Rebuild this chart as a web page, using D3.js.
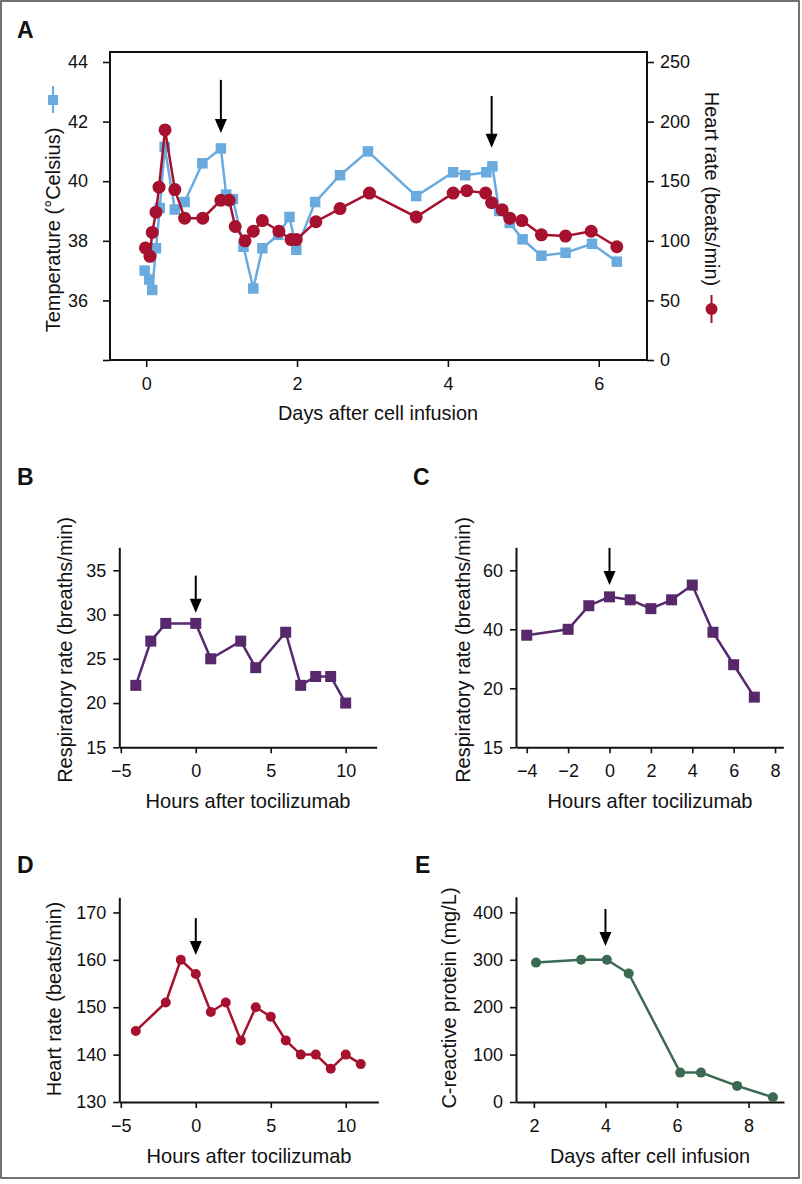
<!DOCTYPE html>
<html><head><meta charset="utf-8">
<script src="https://cdn.jsdelivr.net/npm/d3@7"></script>
<style>
body{margin:0;background:#fff;}
text{font-family:"Liberation Sans",Arial,Helvetica,sans-serif;fill:#111;}
</style></head>
<body><svg id="fig" width="802" height="1184"></svg>
<script>
// ---------- DATA ----------
// Panel A: temperature (°C) and heart rate vs days after cell infusion
const tempDays = [-0.02,0.04,0.08,0.13,0.18,0.245,0.38,0.51,0.745,0.99,1.06,1.15,1.29,1.42,1.54,1.75,1.9,1.99,2.24,2.57,2.94,3.58,4.07,4.23,4.51,4.59,4.68,4.82,4.99,5.24,5.56,5.91,6.24];
const tempVals = [37.0,36.7,36.35,37.75,39.1,41.15,39.05,39.3,40.6,41.1,39.55,39.4,37.8,36.4,37.75,38.2,38.8,37.7,39.3,40.2,41.0,39.5,40.3,40.2,40.3,40.5,39.0,38.6,38.05,37.5,37.6,37.9,37.3];
const hrDays = [-0.01,0.05,0.08,0.13,0.17,0.25,0.38,0.51,0.75,0.99,1.1,1.18,1.31,1.42,1.54,1.76,1.92,1.99,2.25,2.57,2.96,3.58,4.07,4.25,4.5,4.58,4.72,4.82,4.98,5.24,5.56,5.9,6.24];
const hrVals = [94,87,107,124,145,193,143,119,119,134,134,112,100,108,117,108,101,101,116,127,140,120,140,142,140,132,126,119,117,105,104,108,95];
const tempTicks = [34,36,38,40,42,44];
const hrTicks = [0,50,100,150,200,250];
const daysTicksA = [0,2,4,6];
const arrowsA = [{x:0.99,y1:43.4,y2:41.62},{x:4.58,y1:42.86,y2:41.12}];

// Panel B: respiratory rate vs hours after tocilizumab
const rrBHours = [-4,-3,-2,0,1,3,4,6,7,8,9,10];
const rrBVals = [22,27,29,29,25,27,24,28,22,23,23,20];
const rrBYTicks = [15,20,25,30,35];
const hoursTicksB = [-5,0,5,10];

// Panel C: respiratory rate vs hours after tocilizumab
const rrCHours = [-4,-2,-1,0,1,2,3,4,5,6,7];
const rrCVals = [38,40,48,51,50,47,50,55,39,28,17];
const rrCYTicks = [0,20,40,60];
const rrCYLabels = ["15","20","40","60"];
const hoursTicksC = [-4,-2,0,2,4,6,8];

// Panel D: heart rate vs hours after tocilizumab
const hrDHours = [-4,-2,-1,0,1,2,3,4,5,6,7,8,9,10,11];
const hrDVals = [145,151,160,157,149,151,143,150,148,143,140,140,137,140,138];
const hrDYTicks = [130,140,150,160,170];
const hoursTicksD = [-5,0,5,10];

// Panel E: C-reactive protein vs days after cell infusion
const crpDays = [2.06,3.32,4.04,4.65,6.09,6.67,7.68,8.68];
const crpVals = [294,300,300,271,62,62,34,10];
const crpYTicks = [0,100,200,300,400];
const daysTicksE = [2,4,6,8];

// ---------- STYLE ----------
const BLUE = "#6AABDF", RED = "#A5112E", PURPLE = "#57296C", GREEN = "#3B6A52";
const TICKFS = 18, TITLEFS = 20;

const svg = d3.select("#fig");
svg.append("rect").attr("x",0).attr("y",0).attr("width",802).attr("height",1184).attr("fill","#fff");
svg.append("rect").attr("x",1).attr("y",1).attr("width",798).attr("height",1177)
  .attr("fill","none").attr("stroke","#444").attr("stroke-width",1.5);

function styleAxis(g){
  g.selectAll(".domain").attr("stroke","#111").attr("stroke-width",2);
  g.selectAll(".tick line").attr("stroke","#111").attr("stroke-width",1.6);
  g.selectAll(".tick text").attr("font-size",TICKFS).attr("font-family","Liberation Sans, Arial, sans-serif").attr("fill","#111");
}
function arrow(g, x, y1, y2){
  const head = 14, hw = 6;
  g.append("line").attr("x1",x).attr("x2",x).attr("y1",y1).attr("y2",y2-head+2)
    .attr("stroke","#000").attr("stroke-width",2);
  g.append("path").attr("d",`M${x-hw},${y2-head}L${x+hw},${y2-head}L${x},${y2}Z`).attr("fill","#000");
}
function panelLetter(t,x,y){
  svg.append("text").attr("x",x).attr("y",y).attr("font-size",23).attr("font-weight","bold").text(t);
}
function yTitle(t,x,y,rot){
  svg.append("text").attr("transform",`translate(${x},${y}) rotate(${rot||-90})`)
    .attr("text-anchor","middle").attr("font-size",TITLEFS).text(t);
}
function xTitle(t,x,y,len){
  svg.append("text").attr("x",x).attr("y",y).attr("text-anchor","middle").attr("font-size",21)
    .attr("textLength",len).attr("lengthAdjust","spacingAndGlyphs").text(t);
}

// ---------- PANEL A ----------
{
  const x = d3.scaleLinear().domain([-0.48,6.64]).range([110,647]);
  const yT = d3.scaleLinear().domain([34,44]).range([360,62]);
  const yH = d3.scaleLinear().domain([0,250]).range([360,62]);
  const g = svg.append("g");
  g.append("rect").attr("x",110).attr("y",52).attr("width",537).attr("height",308)
    .attr("fill","none").attr("stroke","#111").attr("stroke-width",2);
  const ax = g.append("g").attr("transform","translate(0,360)")
    .call(d3.axisBottom(x).tickValues(daysTicksA).tickFormat(d3.format("d")).tickSize(7).tickPadding(10).tickSizeOuter(0));
  ax.select(".domain").remove(); styleAxis(ax);
  const al = g.append("g").attr("transform","translate(110,0)")
    .call(d3.axisLeft(yT).tickValues(tempTicks).tickFormat(d=>d===34?"":d).tickSize(7).tickPadding(15).tickSizeOuter(0));
  al.select(".domain").remove(); styleAxis(al);
  const ar = g.append("g").attr("transform","translate(647,0)")
    .call(d3.axisRight(yH).tickValues(hrTicks).tickSize(7).tickPadding(6).tickSizeOuter(0));
  ar.select(".domain").remove(); styleAxis(ar);

  const tData = tempDays.map((d,i)=>[d,tempVals[i]]);
  const hData = hrDays.map((d,i)=>[d,hrVals[i]]);
  g.append("path").datum(tData).attr("fill","none").attr("stroke",BLUE).attr("stroke-width",2.5)
    .attr("d",d3.line().x(d=>x(d[0])).y(d=>yT(d[1])));
  const s=10.5;
  g.selectAll(".sq").data(tData).join("rect").attr("x",d=>x(d[0])-s/2).attr("y",d=>yT(d[1])-s/2)
    .attr("width",s).attr("height",s).attr("fill",BLUE);
  g.append("path").datum(hData).attr("fill","none").attr("stroke",RED).attr("stroke-width",2.5)
    .attr("d",d3.line().x(d=>x(d[0])).y(d=>yH(d[1])));
  g.selectAll(".ci").data(hData).join("circle").attr("cx",d=>x(d[0])).attr("cy",d=>yH(d[1]))
    .attr("r",6.5).attr("fill",RED);
  arrowsA.forEach(a=>arrow(g,x(a.x),yT(a.y1),yT(a.y2)));

  panelLetter("A",17,38);
  yTitle("Temperature (°Celsius)",59.5,230,-90);
  yTitle("Heart rate (beats/min)",705,189,90);
  xTitle("Days after cell infusion",378,420,200);
  // legend glyphs
  g.append("line").attr("x1",53).attr("x2",53).attr("y1",86).attr("y2",113).attr("stroke",BLUE).attr("stroke-width",2);
  g.append("rect").attr("x",48).attr("y",95).attr("width",10).attr("height",10).attr("fill",BLUE);
  g.append("line").attr("x1",711.5).attr("x2",711.5).attr("y1",295).attr("y2",323).attr("stroke",RED).attr("stroke-width",2);
  g.append("circle").attr("cx",711.5).attr("cy",309).attr("r",6).attr("fill",RED);
}

// ---------- generic small panel ----------
function smallPanel(o){
  const x = d3.scaleLinear().domain(o.xDom).range(o.xRange);
  const y = d3.scaleLinear().domain(o.yDom).range(o.yRange);
  const g = svg.append("g");
  const ax = g.append("g").attr("transform",`translate(0,${o.yRange[0]})`)
    .call(d3.axisBottom(x).tickValues(o.xTicks).tickFormat(d=>d<0?"\u2212"+Math.abs(d):d).tickSize(6).tickPadding(11).tickSizeOuter(0));
  styleAxis(ax);
  const ay = g.append("g").attr("transform",`translate(${o.xRange[0]},0)`)
    .call(d3.axisLeft(y).tickValues(o.yTicks).tickFormat(o.yFmt||(d=>d)).tickSize(6).tickPadding(7).tickSizeOuter(0));
  styleAxis(ay);
  const data = o.xs.map((d,i)=>[d,o.ys[i]]);
  g.append("path").datum(data).attr("fill","none").attr("stroke",o.color).attr("stroke-width",2.5)
    .attr("d",d3.line().x(d=>x(d[0])).y(d=>y(d[1])));
  if(o.marker==="square"){
    const s=11;
    g.selectAll(".m").data(data).join("rect").attr("x",d=>x(d[0])-s/2).attr("y",d=>y(d[1])-s/2)
      .attr("width",s).attr("height",s).attr("fill",o.color);
  } else {
    g.selectAll(".m").data(data).join("circle").attr("cx",d=>x(d[0])).attr("cy",d=>y(d[1]))
      .attr("r",5).attr("fill",o.color);
  }
  arrow(g,x(o.arrow.x),y(o.arrow.y1),y(o.arrow.y2));
}

smallPanel({xDom:[-5.1,12.07],xRange:[119.3,376.7],yDom:[15,37.6],yRange:[747.3,547.3],
  xTicks:hoursTicksB,yTicks:rrBYTicks,xs:rrBHours,ys:rrBVals,color:PURPLE,marker:"square",
  arrow:{x:0,y1:34.4,y2:30.2}});
panelLetter("B",17,485);
yTitle("Respiratory rate (breaths/min)",72,650,-90);
xTitle("Hours after tocilizumab",248,808,205);

smallPanel({xDom:[-4.52,8.4],xRange:[516,783.3],yDom:[0,67.8],yRange:[747.3,547.3],
  xTicks:hoursTicksC,yTicks:rrCYTicks,yFmt:(d,i)=>rrCYLabels[i],xs:rrCHours,ys:rrCVals,color:PURPLE,marker:"square",
  arrow:{x:0,y1:67.6,y2:55.0}});
panelLetter("C",413,485);
yTitle("Respiratory rate (breaths/min)",469.5,650,-90);
xTitle("Hours after tocilizumab",650,808,205);

smallPanel({xDom:[-5.1,12.17],xRange:[119.3,378.3],yDom:[130,173.2],yRange:[1102,897.3],
  xTicks:hoursTicksD,yTicks:hrDYTicks,xs:hrDHours,ys:hrDVals,color:RED,marker:"circle",
  arrow:{x:0,y1:168.8,y2:161}});
panelLetter("D",17,873);
yTitle("Heart rate (beats/min)",61,999,-90);
xTitle("Hours after tocilizumab",249,1163,205);

smallPanel({xDom:[1.5,8.99],xRange:[516,784],yDom:[0,433],yRange:[1102,896.7],
  xTicks:daysTicksE,yTicks:crpYTicks,xs:crpDays,ys:crpVals,color:GREEN,marker:"circle",
  arrow:{x:4,y1:407,y2:329}});
panelLetter("E",415,873);
yTitle("C-reactive protein (mg/L)",456,998,-90);
xTitle("Days after cell infusion",650,1163,200);
</script></body></html>
